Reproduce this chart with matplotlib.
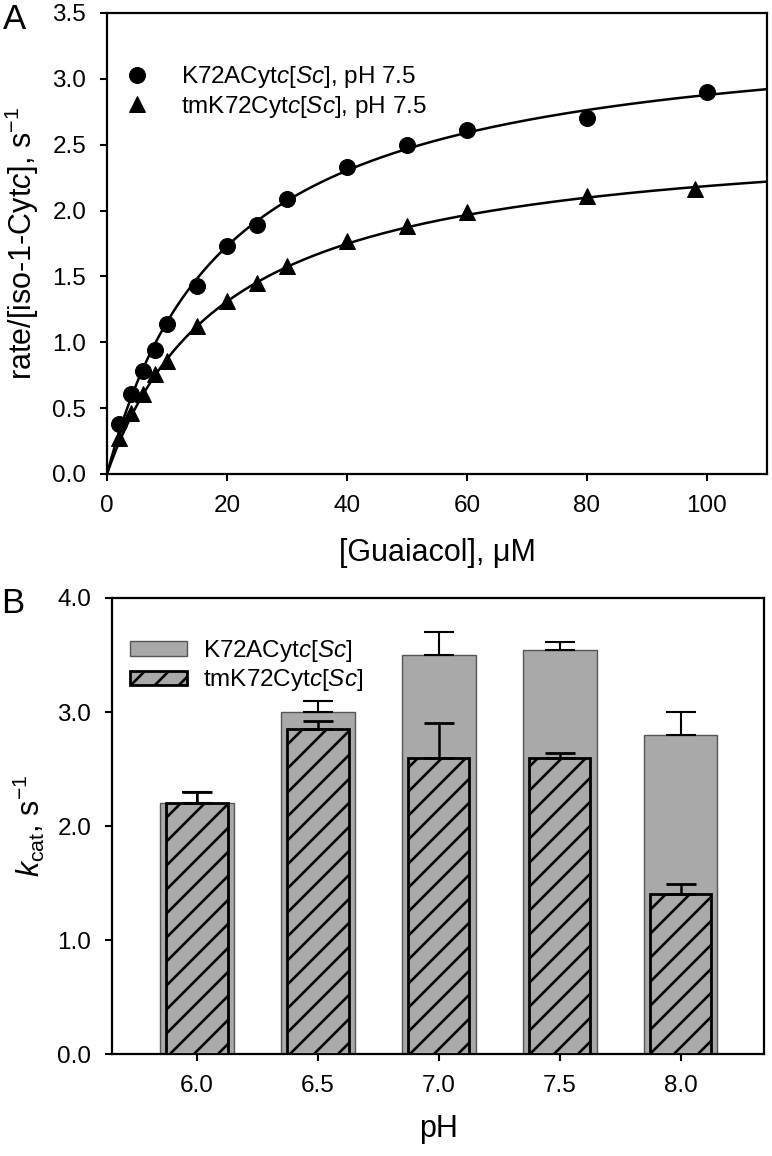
import matplotlib
matplotlib.use("Agg")
import matplotlib.pyplot as plt
import matplotlib.ticker
from matplotlib.patches import Patch
import numpy as np

# figure is rendered at 72 dpi so the hatch spacing matches the original;
# S converts sizes picked for 100 dpi into points
DPI = 72
S = 100 / DPI

plt.rcParams['font.family'] = ['Liberation Sans', 'DejaVu Sans']
plt.rcParams['mathtext.fontset'] = 'custom'
plt.rcParams['mathtext.rm'] = 'Liberation Sans'
plt.rcParams['mathtext.it'] = 'Liberation Sans:italic'
plt.rcParams['hatch.linewidth'] = 2.6

# panel A data
guaiacol_k72a = [2, 4, 6, 8, 10, 15, 20, 25, 30, 40, 50, 60, 80, 100]
rate_k72a = [0.38, 0.61, 0.78, 0.94, 1.14, 1.43, 1.73, 1.89, 2.09, 2.33, 2.50, 2.61, 2.70, 2.90]
guaiacol_tm = [2, 4, 6, 8, 10, 15, 20, 25, 30, 40, 50, 60, 80, 98]
rate_tm = [0.27, 0.46, 0.61, 0.76, 0.86, 1.12, 1.31, 1.45, 1.58, 1.77, 1.88, 1.99, 2.11, 2.16]
# Michaelis-Menten fit parameters (Vmax, Km)
fit_k72a = (3.45, 19.9)
fit_tm = (2.625, 20.1)

# panel B data
ph_labels = ['6.0', '6.5', '7.0', '7.5', '8.0']
kcat_k72a = [2.2, 3.0, 3.5, 3.54, 2.8]
err_k72a = [0.1, 0.1, 0.2, 0.07, 0.2]
kcat_tm = [2.2, 2.85, 2.6, 2.6, 1.4]
err_tm = [0.1, 0.07, 0.3, 0.04, 0.09]

fig = plt.figure(figsize=(772 / DPI, 1156 / DPI), dpi=DPI)
axA = fig.add_axes([0.1386, 0.59, 0.8549, 0.3988])
axB = fig.add_axes([0.1451, 0.0882, 0.8446, 0.3945])

# ---------------- panel A
xs = np.linspace(0, 110, 300)
axA.plot(xs, fit_k72a[0] * xs / (fit_k72a[1] + xs), color='black', lw=1.8 * S, zorder=2)
axA.plot(xs, fit_tm[0] * xs / (fit_tm[1] + xs), color='black', lw=1.8 * S, zorder=2)
axA.plot(guaiacol_k72a, rate_k72a, 'o', color='black', ms=11.5 * S, zorder=3,
         label=r'K72ACyt$\it{c}$[$\it{Sc}$], pH 7.5')
axA.plot(guaiacol_tm, rate_tm, '^', color='black', ms=11.5 * S, zorder=3,
         label=r'tmK72Cyt$\it{c}$[$\it{Sc}$], pH 7.5')
axA.set_xlim(0, 110)
axA.set_ylim(0, 3.5)
axA.xaxis.set_major_locator(matplotlib.ticker.MultipleLocator(20))
axA.yaxis.set_major_locator(matplotlib.ticker.MultipleLocator(0.5))
axA.yaxis.set_major_formatter(matplotlib.ticker.FormatStrFormatter('%.1f'))
axA.set_xlabel(r'[Guaiacol], μM', fontsize=22 * S, labelpad=15 * S)
axA.set_ylabel(r'rate/[iso-1-Cyt$\it{c}$], s$^{-1}$', fontsize=22 * S, labelpad=8 * S)
axA.legend(loc='upper left', bbox_to_anchor=(0.012, 0.91), frameon=False, fontsize=17.5 * S,
           handlelength=1.0, handletextpad=1.3, labelspacing=0.15, borderaxespad=0)
fig.text(0.004, 0.983, 'A', fontsize=25 * S, va='center', ha='left')

# ---------------- panel B
pos = np.arange(len(ph_labels))
gray = '#a9a9a9'
axB.bar(pos, kcat_k72a, width=0.61, color=gray, edgecolor='#555555', lw=1.0 * S, zorder=2)
axB.errorbar(pos, kcat_k72a, yerr=[np.zeros(5), err_k72a], fmt='none', ecolor='black',
             elinewidth=1.5 * S, capsize=10.5 * S, capthick=1.5 * S, zorder=2.5)
axB.bar(pos, kcat_tm, width=0.51, color=gray, edgecolor='black', lw=2.0 * S, hatch='/', zorder=3)
axB.errorbar(pos, kcat_tm, yerr=[np.zeros(5), err_tm], fmt='none', ecolor='black',
             elinewidth=1.8 * S, capsize=10.5 * S, capthick=2 * S, zorder=4)
axB.set_xlim(-0.70, 4.69)
axB.set_ylim(0, 4.0)
axB.set_xticks(pos)
axB.set_xticklabels(ph_labels)
axB.yaxis.set_major_locator(matplotlib.ticker.MultipleLocator(1.0))
axB.yaxis.set_major_formatter(matplotlib.ticker.FormatStrFormatter('%.1f'))
axB.set_xlabel('pH', fontsize=22 * S, labelpad=12 * S)
axB.set_ylabel(r'$\it{k}_{\rm{cat}}$, s$^{-1}$', fontsize=22 * S, labelpad=7 * S)
handles = [Patch(facecolor=gray, edgecolor='#555555', lw=1.0 * S),
           Patch(facecolor=gray, edgecolor='black', lw=2.0 * S, hatch='/')]
axB.legend(handles, [r'K72ACyt$\it{c}$[$\it{Sc}$]', r'tmK72Cyt$\it{c}$[$\it{Sc}$]'],
           loc='upper left', bbox_to_anchor=(0.012, 0.934), frameon=False, fontsize=17.5 * S,
           handlelength=2.35, handleheight=0.55, handletextpad=0.66, labelspacing=0.15,
           borderaxespad=0)
fig.text(0.002, 0.478, 'B', fontsize=25 * S, va='center', ha='left')

for ax in (axA, axB):
    for side in ('top', 'right', 'left', 'bottom'):
        ax.spines[side].set_linewidth(1.6 * S)
    ax.tick_params(direction='out', length=5 * S, width=1.5 * S, labelsize=17.5 * S,
                   pad=10 * S, top=False, right=False)

fig.savefig('out.png', dpi=DPI)
